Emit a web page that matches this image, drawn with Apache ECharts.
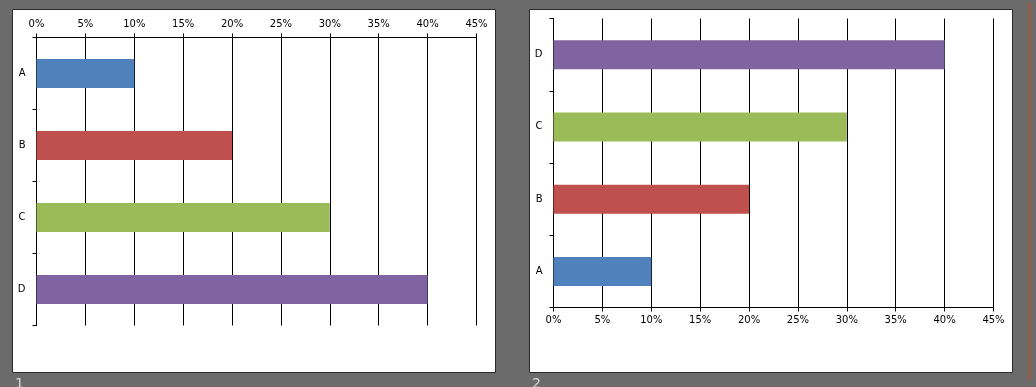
<!DOCTYPE html>
<html>
<head>
<meta charset="utf-8">
<script src="https://cdn.jsdelivr.net/npm/echarts@6/dist/echarts.min.js"></script>
<style>
html,body{margin:0;padding:0;background:#6b6b6b;}
#c{width:1036px;height:387px;}
</style>
</head>
<body>
<div id="c"></div>
<script>
const categories = ['A', 'B', 'C', 'D'];
const values = [10, 20, 30, 40];
const barColors = ['#4F81BD', '#C0504D', '#9BBB59', '#8064A2'];
const tickMax = 45;
const tickStep = 5;

const chart = echarts.init(document.getElementById('c'), null, {renderer: 'canvas'});
const font = 'Tahoma, "DejaVu Sans", "Liberation Sans", sans-serif';

function xAxisDef(gridIndex, position) {
  return {
    type: 'value', gridIndex: gridIndex, position: position,
    min: 0, max: tickMax, interval: tickStep,
    axisLine: {show: true, onZero: false, lineStyle: {color: '#000', width: 1}},
    axisTick: {show: true, length: 4, lineStyle: {color: '#000'}},
    splitLine: {show: true, lineStyle: {color: '#000', width: 1}},
    axisLabel: {formatter: '{value}%', color: '#000', fontSize: 10, fontFamily: font, margin: 8}
  };
}
function yAxisDef(gridIndex, inverse) {
  return {
    type: 'category', gridIndex: gridIndex, data: categories, inverse: inverse,
    axisLine: {show: true, lineStyle: {color: '#000', width: 1}},
    axisTick: {show: true, length: 4, lineStyle: {color: '#000'}},
    splitLine: {show: false},
    axisLabel: {color: '#000', fontSize: 10, fontFamily: font, margin: 11}
  };
}
function seriesDef(idx) {
  return {
    type: 'bar', xAxisIndex: idx, yAxisIndex: idx, barWidth: 29,
    data: values.map((v, i) => ({value: v, itemStyle: {color: barColors[i]}})),
    silent: true
  };
}

chart.setOption({
  backgroundColor: '#6b6b6b',
  animation: false,
  graphic: [
    {type: 'rect', shape: {x: 12.5, y: 9.5, width: 483, height: 363}, style: {fill: '#fff', stroke: '#2a2a2a', lineWidth: 1}, z: -10},
    {type: 'rect', shape: {x: 529.5, y: 9.5, width: 483, height: 363}, style: {fill: '#fff', stroke: '#2a2a2a', lineWidth: 1}, z: -10},
    {type: 'text', left: 15, top: 377, style: {text: '1', fill: '#d8d8d8', font: '14px ' + font}},
    {type: 'text', left: 532, top: 377, style: {text: '2', fill: '#d8d8d8', font: '14px ' + font}},
    {type: 'line', shape: {x1: 1029.5, y1: 2, x2: 1029.5, y2: 380}, style: {stroke: '#a8583a', lineWidth: 2, opacity: 1}}
  ],
  grid: [
    {left: 36.5, top: 37.5, width: 440, height: 288, containLabel: false},
    {left: 553.5, top: 18.5, width: 440, height: 289, containLabel: false}
  ],
  xAxis: [xAxisDef(0, 'top'), xAxisDef(1, 'bottom')],
  yAxis: [yAxisDef(0, true), yAxisDef(1, false)],
  series: [seriesDef(0), seriesDef(1)]
});
</script>
</body>
</html>
